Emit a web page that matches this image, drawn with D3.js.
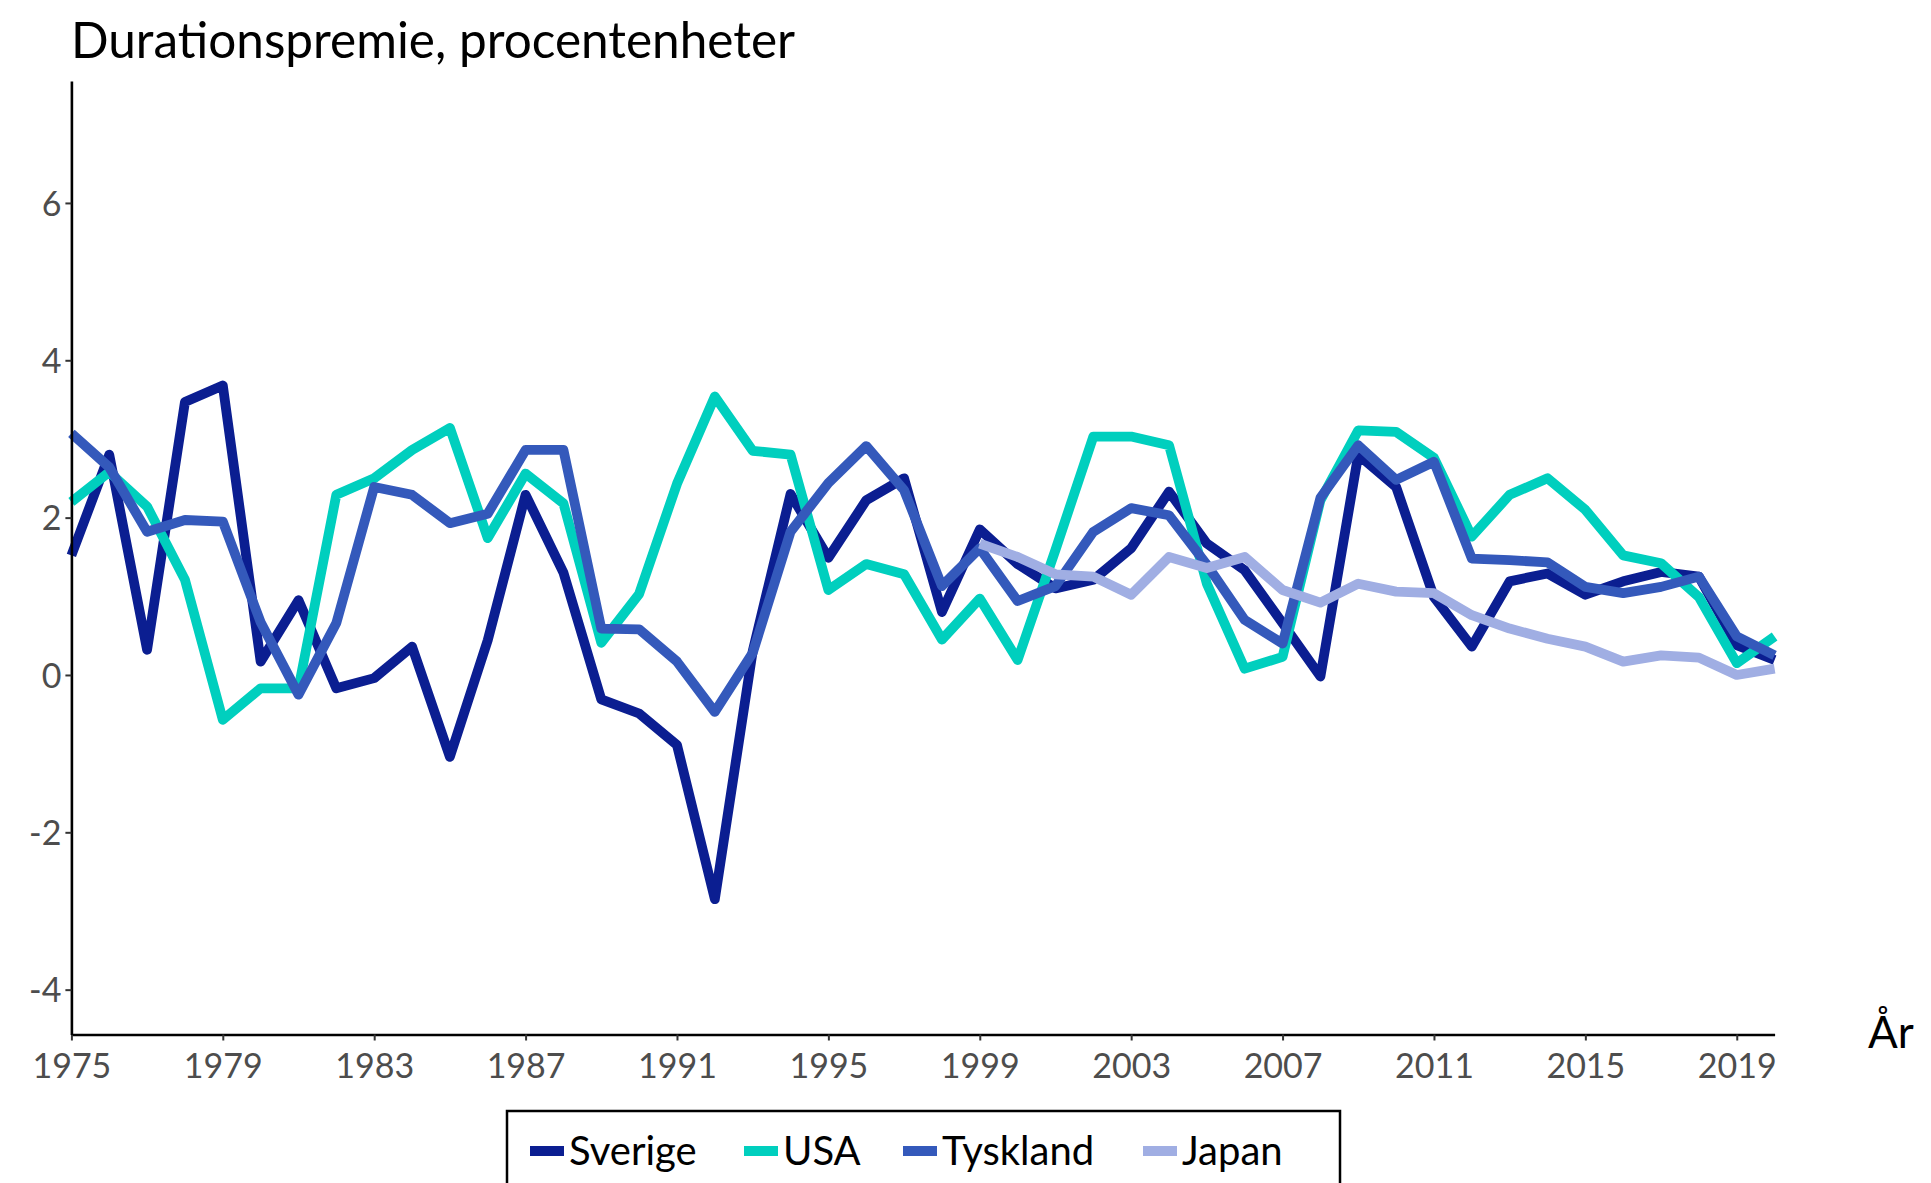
<!DOCTYPE html>
<html>
<head>
<meta charset="utf-8">
<script src="https://cdn.jsdelivr.net/npm/d3@7"></script>
<style>
  html, body { margin: 0; padding: 0; background: #fff; }
  svg { display: block; }
  text { font-family: Lato, "Open Sans", sans-serif; }
</style>
</head>
<body>
<script>
// Term premium by country, percentage points
const years = d3.range(1975, 2021);
const sverige = [1.52, 2.80, 0.32, 3.47, 3.68, 0.17, 0.95, -0.17, -0.04, 0.36,
  -1.04, 0.44, 2.29, 1.30, -0.31, -0.49, -0.89, -2.85, 0.30, 2.30,
  1.49, 2.22, 2.50, 0.80, 1.85, 1.41, 1.10, 1.21, 1.61, 2.33,
  1.67, 1.33, 0.66, -0.02, 2.80, 2.39, 0.99, 0.36, 1.19, 1.29,
  1.02, 1.19, 1.31, 1.25, 0.38, 0.19];
const usa = [2.20, 2.58, 2.14, 1.21, -0.57, -0.17, -0.17, 2.29, 2.50, 2.86,
  3.14, 1.74, 2.56, 2.18, 0.41, 1.03, 2.43, 3.54, 2.85, 2.80,
  1.08, 1.41, 1.28, 0.45, 0.97, 0.19, 1.59, 3.03, 3.03, 2.92,
  1.16, 0.08, 0.23, 2.22, 3.11, 3.09, 2.76, 1.76, 2.29, 2.50,
  2.10, 1.52, 1.42, 0.99, 0.15, 0.49];
const tyskland = [3.07, 2.64, 1.82, 1.97, 1.95, 0.67, -0.25, 0.66, 2.39, 2.29,
  1.93, 2.05, 2.86, 2.86, 0.59, 0.58, 0.17, -0.47, 0.28, 1.82,
  2.44, 2.91, 2.35, 1.13, 1.61, 0.94, 1.13, 1.82, 2.12, 2.03,
  1.40, 0.70, 0.40, 2.25, 2.92, 2.48, 2.71, 1.48, 1.46, 1.43,
  1.12, 1.04, 1.12, 1.25, 0.49, 0.25];
// Japan series starts in 1999
const japanYears = d3.range(1999, 2021);
const japan = [1.67, 1.50, 1.28, 1.25, 1.02, 1.50, 1.36, 1.50, 1.08, 0.92,
  1.16, 1.06, 1.04, 0.76, 0.59, 0.46, 0.36, 0.17, 0.25, 0.22,
  0.00, 0.08];

const seriesNames = ["Sverige", "USA", "Tyskland", "Japan"];
const seriesColors = ["#0b1e91", "#00cfbe", "#3459bb", "#a0aee3"];
const xTicks = d3.range(1975, 2020, 4);
const yTicks = [-4, -2, 0, 2, 4, 6];

const W = 1931, H = 1183;
const svg = d3.select("body").append("svg").attr("width", W).attr("height", H);

const x = d3.scaleLinear().domain([1975, 2020]).range([71.4, 1774.6]);
const y = d3.scaleLinear().domain([-4.57, 7.55]).range([1034.5, 81]);

const series = [
  { name: seriesNames[0], color: seriesColors[0], pts: years.map((t, i) => [t, sverige[i]]) },
  { name: seriesNames[1], color: seriesColors[1], pts: years.map((t, i) => [t, usa[i]]) },
  { name: seriesNames[2], color: seriesColors[2], pts: years.map((t, i) => [t, tyskland[i]]) },
  { name: seriesNames[3], color: seriesColors[3], pts: japanYears.map((t, i) => [t, japan[i]]) }
];

const line = d3.line().x(d => x(d[0])).y(d => y(d[1]));

svg.append("g").selectAll("path").data(series).join("path")
  .attr("d", d => line(d.pts))
  .attr("fill", "none")
  .attr("stroke", d => d.color)
  .attr("stroke-width", 9.8)
  .attr("stroke-linejoin", "round")
  .attr("stroke-linecap", "butt");

// Axes
const xAxis = svg.append("g").attr("transform", `translate(0,${y.range()[0]})`)
  .call(d3.axisBottom(x).tickValues(xTicks).tickFormat(d3.format("d")).tickSize(6).tickSizeOuter(0));
const yAxis = svg.append("g").attr("transform", `translate(${x.range()[0]},0)`)
  .call(d3.axisLeft(y).tickValues(yTicks).tickFormat(d => d < 0 ? "-" + Math.abs(d) : d).tickSize(6).tickSizeOuter(0));

[xAxis, yAxis].forEach(g => {
  g.select(".domain").attr("stroke", "#000").attr("stroke-width", 2.6);
  g.selectAll(".tick line").attr("stroke", "#333").attr("stroke-width", 2);
  g.selectAll(".tick text").attr("fill", "#4d4d4d").style("font-size", "34px");
});
xAxis.selectAll(".tick text").attr("dy", "1.0em");
yAxis.selectAll(".tick text").attr("x", -10).attr("dy", "0.36em");

// Title and axis label
svg.append("text").attr("x", 71).attr("y", 58)
  .style("font-size", "49.5px").attr("fill", "#000")
  .text("Durationspremie, procentenheter");
svg.append("text").attr("x", 1868).attr("y", 1048)
  .style("font-size", "44px").attr("fill", "#000")
  .text("År");

// Legend
const legend = svg.append("g");
legend.append("rect").attr("x", 507).attr("y", 1111).attr("width", 833).attr("height", 120)
  .attr("fill", "#fff").attr("stroke", "#000").attr("stroke-width", 2.5);
const keyX = [530, 744, 903, 1143];
const items = legend.selectAll("g.item").data(series).join("g").attr("class", "item")
  .attr("transform", (d, i) => `translate(${keyX[i]},1151)`);
items.append("line").attr("x1", 0).attr("x2", 34).attr("y1", 0).attr("y2", 0)
  .attr("stroke", d => d.color).attr("stroke-width", 9.8);
items.append("text").attr("x", 39).attr("y", 0).attr("dy", "0.36em")
  .style("font-size", "40px").attr("fill", "#000").text(d => d.name);
</script>
</body>
</html>
